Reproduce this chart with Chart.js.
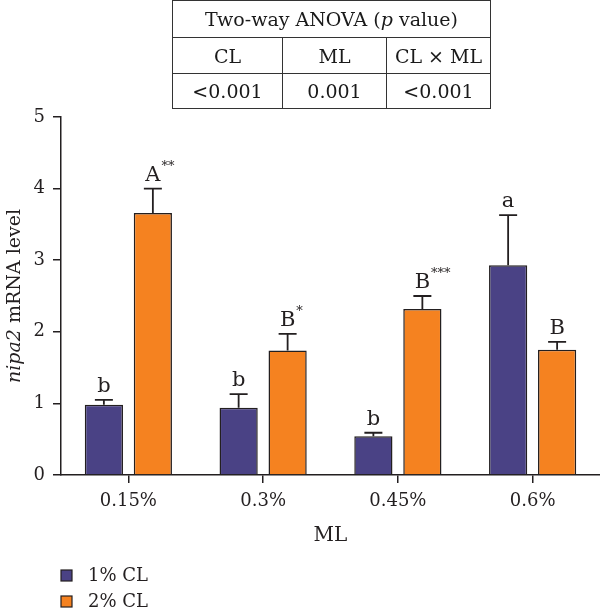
<!DOCTYPE html>
<html>
<head>
<meta charset="utf-8">
<script src="https://cdn.jsdelivr.net/npm/chart.js@4.4.1/dist/chart.umd.min.js"></script>
<style>
  html, body { margin: 0; padding: 0; background: #fff; }
  #wrap { position: relative; width: 600px; height: 612px; }
  #anova {
    position: absolute; left: 172px; top: 0px;
    border-collapse: collapse;
    font-family: "DejaVu Serif", serif; font-size: 19px; color: #1a1a1a;
  }
  #anova td { border: 1.5px solid #333; text-align: center; padding: 0; white-space: nowrap; }
</style>
</head>
<body>
<div id="wrap">
  <canvas id="myChart" width="600" height="612"></canvas>
  <table id="anova">
    <tr style="height:37px"><td colspan="3">Two-way ANOVA (<i>p</i> value)</td></tr>
    <tr style="height:36px"><td style="width:109px">CL</td><td style="width:103px">ML</td><td style="width:103px">CL × ML</td></tr>
    <tr style="height:35px"><td>&lt;0.001</td><td>0.001</td><td>&lt;0.001</td></tr>
  </table>
</div>
<script>
var mlLevels = ['0.15%', '0.3%', '0.45%', '0.6%'];
var seriesNames = ['1% CL', '2% CL'];
var cl1Mean = [0.98, 0.94, 0.54, 2.93];
var cl1Upper = [1.05, 1.13, 0.59, 3.63];
var cl2Mean = [3.66, 1.74, 2.32, 1.75];
var cl2Upper = [4.00, 1.97, 2.50, 1.86];
var cl1Letters = ['b', 'b', 'b', 'a'];
var cl2Letters = ['A', 'B', 'B', 'B'];
var cl2Stars = ['**', '*', '***', ''];
var yTicks = [0, 1, 2, 3, 4, 5];

var font = '"DejaVu Serif", serif';
var ink = '#231f20';

// error bars, letters, axis titles and legend
var extras = {
    id: 'extras',
    afterDatasetsDraw: function (chart) {
        var c = chart.ctx, y = chart.scales.y;
        var uppers = [cl1Upper, cl2Upper];
        var letters = [cl1Letters, cl2Letters];
        var stars = [['', '', '', ''], cl2Stars];
        c.save();
        for (var d = 0; d < 2; d++) {
            var meta = chart.getDatasetMeta(d);
            meta.data.forEach(function (bar, i) {
                var top = y.getPixelForValue(uppers[d][i]);
                c.strokeStyle = ink;
                c.lineWidth = 1.8;
                c.beginPath();
                c.moveTo(bar.x, bar.y);
                c.lineTo(bar.x, top);
                c.moveTo(bar.x - 9, top);
                c.lineTo(bar.x + 9, top);
                c.stroke();

                c.fillStyle = ink;
                c.textBaseline = 'alphabetic';
                c.textAlign = 'left';
                c.font = '21px ' + font;
                var txt = letters[d][i];
                var w = c.measureText(txt).width;
                var x0 = bar.x - w / 2;
                c.fillText(txt, x0, top - 8);
                if (stars[d][i]) {
                    c.font = '13px ' + font;
                    c.fillText(stars[d][i], x0 + w + 1, top - 19);
                }
            });
        }
        // y title
        c.save();
        c.translate(15, (chart.chartArea.top + chart.chartArea.bottom) / 2);
        c.rotate(-Math.PI / 2);
        c.textBaseline = 'middle';
        c.font = 'italic 19px ' + font;
        var p1 = 'nipa2';
        var w1 = c.measureText(p1).width;
        c.font = '19px ' + font;
        var p2 = ' mRNA level';
        var w2 = c.measureText(p2).width;
        var sx = -(w1 + w2) / 2;
        c.textAlign = 'left';
        c.font = 'italic 19px ' + font;
        c.fillText(p1, sx, 0);
        c.font = '19px ' + font;
        c.fillText(p2, sx + w1, 0);
        c.restore();

        // x title
        c.font = '20px ' + font;
        c.textAlign = 'center';
        c.textBaseline = 'middle';
        c.fillStyle = ink;
        c.fillText('ML', (chart.chartArea.left + chart.chartArea.right) / 2, 536);

        // legend
        c.font = '18px ' + font;
        chart.data.datasets.forEach(function (ds, k) {
            var ly = 576 + k * 26;
            c.fillStyle = ds.backgroundColor;
            c.fillRect(61, ly - 6, 11, 11);
            c.strokeStyle = ink;
            c.lineWidth = 1.2;
            c.strokeRect(61, ly - 6, 11, 11);
            c.fillStyle = ink;
            c.textAlign = 'left';
            c.fillText(ds.label, 88, ly);
        });
        c.restore();
    }
};

var ctx = document.getElementById('myChart').getContext('2d');
var myChart = new Chart(ctx, {
    type: 'bar',
    data: {
        labels: mlLevels,
        datasets: [{
            label: seriesNames[0],
            data: cl1Mean,
            backgroundColor: '#4a4285',
            borderColor: ink,
            borderWidth: 1.5
        }, {
            label: seriesNames[1],
            data: cl2Mean,
            backgroundColor: '#f58220',
            borderColor: ink,
            borderWidth: 1.5
        }]
    },
    options: {
        responsive: false,
        animation: false,
        categoryPercentage: 0.727,
        barPercentage: 0.78,
        layout: { padding: { top: 117, right: 0, left: 0, bottom: 0 } },
        plugins: {
            legend: { display: false },
            tooltip: { enabled: false }
        },
        scales: {
            x: {
                grid: { drawOnChartArea: false, offset: false, tickLength: 8, color: ink, lineWidth: 1.5 },
                border: { color: ink, width: 1.5 },
                ticks: { color: ink, font: { family: font, size: 18 }, padding: 8 },
                afterFit: function (s) { s.height = 137; }
            },
            y: {
                min: 0,
                max: 5,
                afterBuildTicks: function (s) { s.ticks = yTicks.map(function (v) { return { value: v }; }); },
                grid: { drawOnChartArea: false, tickLength: 8, color: ink, lineWidth: 1.5 },
                border: { color: ink, width: 1.5 },
                ticks: { color: ink, font: { family: font, size: 18 }, padding: 8 },
                afterFit: function (s) { s.width = 61; }
            }
        }
    },
    plugins: [extras]
});
</script>
</body>
</html>
